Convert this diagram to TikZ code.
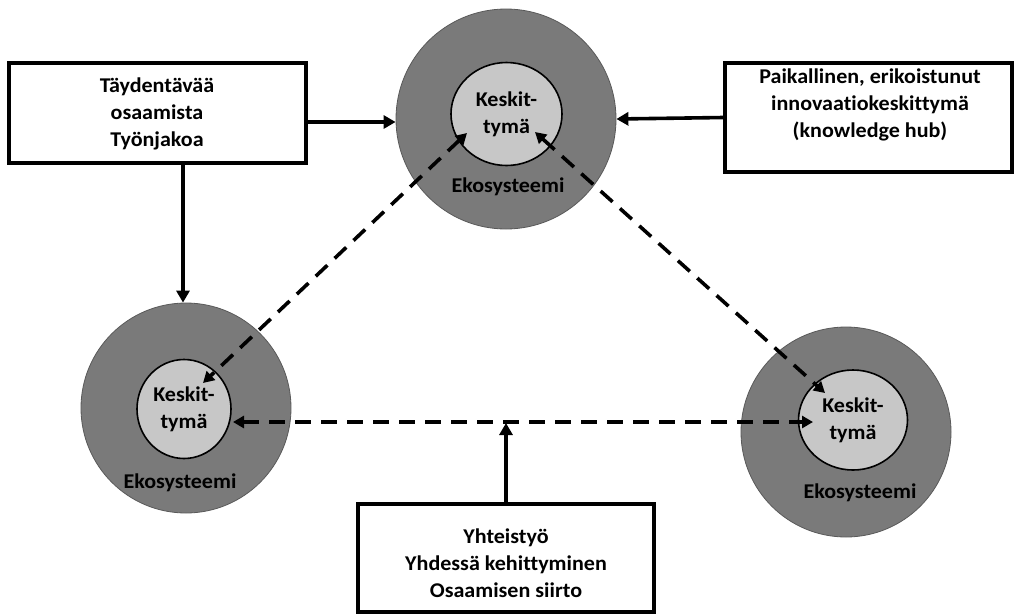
\documentclass[tikz,border=0pt]{standalone}
\usepackage{fontspec}
\setmainfont{Carlito}[FakeStretch=1.05,Ligatures=NoCommon]
\usetikzlibrary{arrows.meta,shapes.geometric}
\definecolor{ecogray}{gray}{0.48}
\definecolor{hubgray}{gray}{0.78}
\begin{document}
\begin{tikzpicture}[x=1pt,y=-1pt,
  eco/.style={circle,fill=ecogray,draw=black!65,line width=0.8pt,minimum size=220pt,inner sep=0pt},
  hub/.style={ellipse,fill=hubgray,draw=black,line width=1.6pt,inner sep=0pt,
              font=\bfseries\fontsize{21}{27}\selectfont,align=center},
  ecolabel/.style={font=\bfseries\fontsize{21}{27}\selectfont},
  infobox/.style={rectangle,draw=black,line width=3.2pt,fill=white,inner sep=0pt},
  infotext/.style={font=\bfseries\fontsize{21}{27}\selectfont,align=center},
  solidarrow/.style={line width=3.6pt,-{Triangle[length=12pt,width=13pt]}},
  linkarrow/.style={line width=3.6pt,dash pattern=on 16pt off 10pt,
                    {Triangle[length=11pt,width=12pt]}-{Triangle[length=11pt,width=12pt]}}]
\useasboundingbox (0,0) rectangle (1022,614);

% ecosystems
\node[eco] (ecoTop) at (506,119) {};
\node[eco,minimum size=210pt] (ecoLeft) at (186,408) {};
\node[eco,minimum size=210pt] (ecoRight) at (846,432) {};

% hubs
\node[hub,minimum width=111pt,minimum height=103pt] (hubTop) at (506.5,114) {Keskit-\\tymä};
\node[hub,minimum width=94pt,minimum height=99pt] (hubLeft) at (184,409) {Keskit-\\tymä};
\node[hub,minimum width=109pt,minimum height=100pt] (hubRight) at (853,420) {Keskit-\\tymä};

\node[ecolabel] (labTop) at (508,187) {Ekosysteemi};
\node[ecolabel] (labLeft) at (180,483) {Ekosysteemi};
\node[ecolabel] (labRight) at (860,493) {Ekosysteemi};

% boxes
\node[infobox,minimum width=297pt,minimum height=100pt] (boxLeft) at (157.5,113) {};
\node[infotext] (txtLeft) at (157,114) {Täydentävää\\osaamista\\Työnjakoa};
\node[infobox,minimum width=287pt,minimum height=109pt] (boxRight) at (868.5,117.5) {};
\node[infotext] (txtRight) at (870,105) {Paikallinen, erikoistunut\\innovaatiokeskittymä\\(knowledge hub)};
\node[infobox,minimum width=296pt,minimum height=108pt] (boxBottom) at (506,558) {};
\node[infotext] (txtBottom) at (506,563) {Yhteistyö\\Yhdessä kehittyminen\\Osaamisen siirto};

% influences on ecosystems
\draw[solidarrow] ([yshift=-9pt]boxLeft.east) -- ([yshift=-3pt]ecoTop.west);
\draw[solidarrow] (boxRight.west) -- (ecoTop.east);
\draw[solidarrow] ([xshift=25.5pt]boxLeft.south) -- ([xshift=25.5pt]boxLeft.south |- ecoLeft.north);
\coordinate (linkMid) at (506,423);
\draw[solidarrow] (boxBottom.north) -- (linkMid);

% links between hubs
\draw[linkarrow] ([shift={(-39.5,19)}]hubTop.center) -- ([shift={(19,-26)}]hubLeft.center);
\draw[linkarrow] ([shift={(28.5,18)}]hubTop.center) -- ([shift={(-28,-27)}]hubRight.center);
\draw[linkarrow] ([shift={(49,13)}]hubLeft.center) -- ([shift={(-40,2)}]hubRight.center);
\end{tikzpicture}
\end{document}
